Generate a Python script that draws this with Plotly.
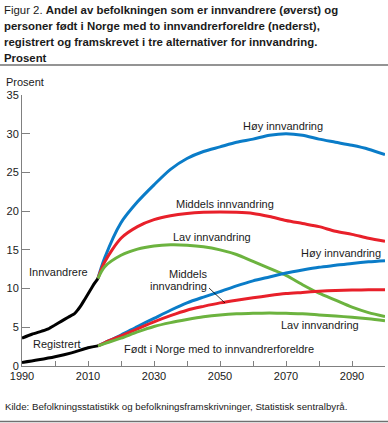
import plotly.graph_objects as go

# ---- data ----
hist_years_innv = [1990, 1993, 1996, 1998, 2000, 2002, 2004, 2006, 2007, 2008, 2009, 2010, 2011, 2012, 2013]
hist_innv = [3.6, 4.1, 4.5, 4.8, 5.3, 5.8, 6.3, 6.8, 7.3, 7.9, 8.6, 9.3, 10.0, 10.7, 11.3]

hist_years_born = [1990, 1995, 2000, 2005, 2010, 2013]
hist_born = [0.45, 0.8, 1.2, 1.7, 2.35, 2.6]

proj_years = [2013, 2015, 2020, 2025, 2030, 2035, 2040, 2045, 2050, 2055,
              2060, 2065, 2070, 2075, 2080, 2085, 2090, 2095, 2100]
innv_hoy = [11.3, 13.9, 18.5, 21.2, 23.4, 25.4, 26.8, 27.7, 28.3, 28.9,
            29.3, 29.8, 30.0, 29.8, 29.3, 28.9, 28.5, 28.0, 27.3]
innv_mid = [11.3, 13.4, 16.5, 18.0, 18.9, 19.4, 19.7, 19.85, 19.9, 19.85,
            19.7, 19.3, 18.8, 18.4, 18.0, 17.4, 17.0, 16.5, 16.1]
innv_lav = [11.3, 12.8, 14.3, 15.1, 15.5, 15.65, 15.6, 15.4, 15.0, 14.4,
            13.5, 12.6, 11.7, 10.5, 9.4, 8.5, 7.6, 6.9, 6.4]
born_hoy = [2.6, 3.0, 4.0, 5.1, 6.15, 7.2, 8.15, 8.9, 9.6, 10.35,
            11.0, 11.5, 12.0, 12.4, 12.75, 13.0, 13.25, 13.45, 13.6]
born_mid = [2.6, 3.0, 3.9, 4.8, 5.7, 6.5, 7.2, 7.7, 8.15, 8.5,
            8.8, 9.1, 9.35, 9.5, 9.65, 9.75, 9.8, 9.85, 9.85]
born_lav = [2.6, 2.9, 3.6, 4.4, 5.1, 5.6, 6.0, 6.35, 6.6, 6.75,
            6.8, 6.85, 6.8, 6.75, 6.6, 6.45, 6.3, 6.1, 5.85]

y_ticks = [0, 5, 10, 15, 20, 25, 30, 35]
x_tick_labels = [1990, 2010, 2030, 2050, 2070, 2090]

BLUE = "#0a7cc8"
RED = "#e8202a"
GREEN = "#6cb33f"
BLACK = "#000000"
FONT = "Liberation Sans"
TXT = "#1a1a1a"
LW = 3

fig = go.Figure()
for ys, c in [(innv_hoy, BLUE), (innv_mid, RED), (innv_lav, GREEN),
              (born_hoy, BLUE), (born_mid, RED), (born_lav, GREEN)]:
    fig.add_trace(go.Scatter(x=proj_years, y=ys, mode="lines",
                             line=dict(color=c, width=LW, shape="spline", smoothing=0.8),
                             hoverinfo="skip"))
fig.add_trace(go.Scatter(x=hist_years_innv, y=hist_innv, mode="lines",
                         line=dict(color=BLACK, width=LW, shape="spline", smoothing=0.6),
                         hoverinfo="skip"))
fig.add_trace(go.Scatter(x=hist_years_born, y=hist_born, mode="lines",
                         line=dict(color=BLACK, width=LW, shape="spline"), hoverinfo="skip"))

W, H = 388, 423
L, R, T, B = 22, 3, 95, 57
PW, PH = W - L - R, H - T - B

fig.update_layout(
    width=W, height=H, showlegend=False,
    margin=dict(l=L, r=R, t=T, b=B, pad=0),
    paper_bgcolor="white", plot_bgcolor="white",
    font=dict(family=FONT, size=11, color=TXT),
    xaxis=dict(range=[1990, 2100], showgrid=False, zeroline=False,
               showline=True, linecolor="#808080", linewidth=1,
               tickmode="array", tickvals=list(range(1990, 2101, 10)),
               ticktext=[str(v) if v in x_tick_labels else "" for v in range(1990, 2101, 10)],
               ticks="inside", ticklen=5, tickcolor="#808080",
               tickfont=dict(size=11, color=TXT, family=FONT)),
    yaxis=dict(range=[0, 35], showgrid=False, zeroline=False,
               showline=True, linecolor="#808080", linewidth=1,
               tickmode="array", tickvals=y_ticks,
               ticks="inside", ticklen=8, tickcolor="#808080",
               tickfont=dict(size=11, color=TXT, family=FONT)),
)

def px2paper(px, py):
    return (px - L) / PW, 1 - (py - T) / PH

anns = []
def ptext(text, px, py, size=11, xanchor="center"):
    x, y = px2paper(px, py)
    anns.append(dict(text=text, x=x, y=y, xref="paper", yref="paper",
                     xanchor=xanchor, yanchor="middle", showarrow=False,
                     font=dict(size=size, color=TXT, family=FONT)))

# Title
title_lines = [
    "Figur 2. <b>Andel av befolkningen som er innvandrere (øverst) og</b>",
    "<b>personer født i Norge med to innvandrerforeldre (nederst),</b>",
    "<b>registrert og framskrevet i tre alternativer for innvandring.</b>",
    "<b>Prosent</b>",
]
for i, t in enumerate(title_lines):
    ptext(t, 2, 10 + i * 16, size=11.4, xanchor="left")

ptext("Prosent", 4, 82, xanchor="left")
ptext("Kilde: Befolkningsstatistikk og befolkningsframskrivninger, Statistisk sentralbyrå.", 3, 406, size=9.7, xanchor="left")

dtext = ptext
dtext("Høy innvandring", 283, 126)
dtext("Middels innvandring", 225, 204)
dtext("Lav innvandring", 212, 237)
dtext("Innvandrere", 58, 272)
dtext("Registrert", 57, 344)
dtext("Født i Norge med to innvandrerforeldre", 219, 349)
dtext("Høy innvandring", 341, 253)
dtext("Middels", 209, 274, xanchor="right")
dtext("innvandring", 209, 286, xanchor="right")
dtext("Lav innvandring", 320, 325)

fig.update_layout(annotations=anns)

def hline(py, color, width):
    _, y = px2paper(0, py)
    return dict(type="line", xref="paper", yref="paper",
                x0=px2paper(0, 0)[0], x1=px2paper(W, 0)[0], y0=y, y1=y,
                line=dict(color=color, width=width))

x0, y0 = px2paper(209, 288)
x1, y1 = px2paper(225, 303)
shapes = [
    hline(65, "#707070", 1.5),
    hline(421.5, "#707070", 1.5),
    dict(type="line", xref="paper", yref="paper", x0=x0, x1=x1, y0=y0, y1=y1,
         line=dict(color="#000000", width=0.8)),
]
fig.update_layout(shapes=shapes)

fig.write_html("out.html", config={"displayModeBar": False},
               post_script="document.body.style.margin='0';")
